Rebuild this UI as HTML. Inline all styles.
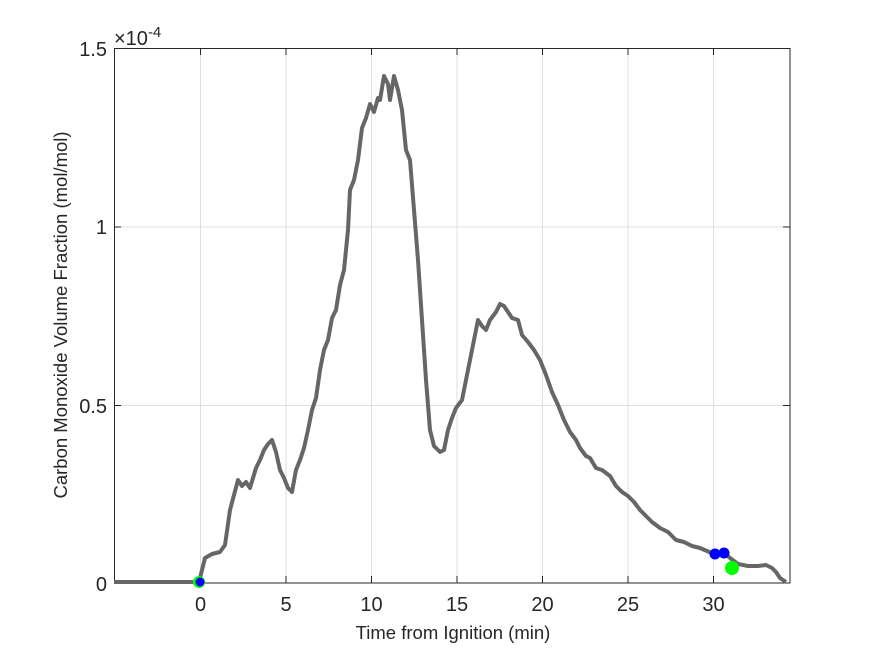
<!DOCTYPE html>
<html><head><meta charset="utf-8"><style>body{margin:0;background:#fff}svg{display:block}text{font-family:"Liberation Sans",sans-serif;fill:#262626}</style></head>
<body>
<svg width="875" height="656" viewBox="0 0 875 656" xmlns="http://www.w3.org/2000/svg">
<rect width="875" height="656" fill="#fff"/>
<g stroke="#dfdfdf" stroke-width="1">
<line x1="200.5" y1="48" x2="200.5" y2="583"/><line x1="286" y1="48" x2="286" y2="583"/><line x1="371.5" y1="48" x2="371.5" y2="583"/><line x1="457" y1="48" x2="457" y2="583"/><line x1="542.5" y1="48" x2="542.5" y2="583"/><line x1="628" y1="48" x2="628" y2="583"/><line x1="713.5" y1="48" x2="713.5" y2="583"/>
<line x1="114" y1="405.5" x2="790" y2="405.5"/><line x1="114" y1="227" x2="790" y2="227"/>
</g>
<g stroke="#262626" stroke-width="1">
<rect x="114.5" y="48.5" width="675.5" height="534.5" fill="none"/>
<path d="M200.5 583v-7M286 583v-7M371.5 583v-7M457 583v-7M542.5 583v-7M628 583v-7M713.5 583v-7M200.5 48v7M286 48v7M371.5 48v7M457 48v7M542.5 48v7M628 48v7M713.5 48v7M114 405.5h7M114 227h7M790 405.5h-7M790 227h-7"/>
</g>
<polyline fill="none" stroke="#666" stroke-width="4" stroke-linejoin="round" points="114,582 190,582 198,582 200,578 205,558 212,554 220,552 225,545 230,510 234,495 238,480 242,486 246,482 250,488 256,468 260,460 264,450 268,444 272,440 276,452 280,470 284,478 288,488 292,492 296,470 300,460 304,448 308,430 312,410 316,398 320,370 324,350 328,340 332,318 336,310 340,285 344,270 348,230 350,190 354,180 358,160 362,128 366,118 370,104 374,112 378,98 380,100 384,76 388,84 390,100 394,76 398,90 402,110 406,150 410,160 414,210 418,260 422,320 426,380 430,430 434,446 440,452 444,450 448,430 452,418 456,408 462,400 466,380 470,360 474,340 478,320 482,326 486,330 490,320 496,312 500,304 504,306 508,312 512,318 518,320 522,335 528,342 534,350 540,360 546,375 552,392 558,405 564,420 570,432 576,440 580,448 586,456 590,458 596,468 602,470 610,476 616,486 622,492 628,496 634,502 640,510 646,516 652,522 660,528 668,532 676,540 684,542 692,546 700,548 714,554 724,553 730,558 738,564 748,566 758,566 766,565 772,568 776,572 780,578 786,582"/>
<circle cx="199" cy="582" r="6" fill="#0f0"/>
<circle cx="200" cy="582" r="4.5" fill="#00f"/>
<circle cx="715" cy="554" r="5.5" fill="#00f"/>
<circle cx="724" cy="553" r="5.5" fill="#00f"/>
<circle cx="732" cy="568" r="7" fill="#0f0"/>
<g font-size="20" text-anchor="middle">
<text x="200.5" y="611">0</text><text x="286" y="611">5</text><text x="371.5" y="611">10</text><text x="457" y="611">15</text><text x="542.5" y="611">20</text><text x="628" y="611">25</text><text x="713.5" y="611">30</text>
</g>
<g font-size="20" text-anchor="end">
<text x="107" y="591">0</text><text x="107" y="413">0.5</text><text x="107" y="234">1</text><text x="107" y="56">1.5</text>
</g>
<text x="114" y="45" font-size="20">×10<tspan font-size="15" dy="-8">-4</tspan></text>
<text x="453" y="639" font-size="18.5" text-anchor="middle">Time from Ignition (min)</text>
<text transform="translate(67,315) rotate(-90)" font-size="18.5" text-anchor="middle">Carbon Monoxide Volume Fraction (mol/mol)</text>
</svg>
</body></html>
